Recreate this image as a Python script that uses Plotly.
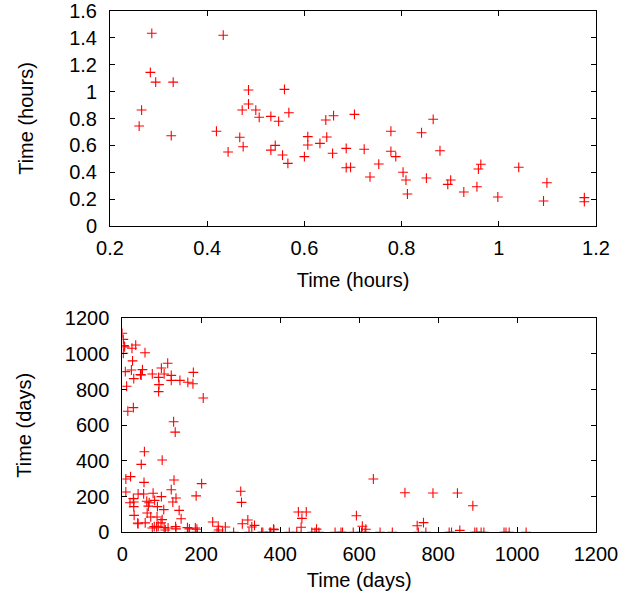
import plotly.graph_objects as go

# top panel: hours vs hours
hours_x = [0.286, 0.433, 0.283, 0.294, 0.330, 0.265, 0.260, 0.326, 0.419, 0.443,
           0.467, 0.474, 0.472, 0.485, 0.485, 0.500, 0.507, 0.531, 0.531, 0.540,
           0.547, 0.555, 0.559, 0.568, 0.566, 0.600, 0.607, 0.607, 0.632, 0.646,
           0.644, 0.660, 0.658, 0.686, 0.686, 0.695, 0.703, 0.723, 0.735, 0.753,
           0.778, 0.778, 0.788, 0.803, 0.809, 0.812, 0.841, 0.851, 0.865, 0.879,
           0.895, 0.901, 0.928, 0.958, 0.963, 0.955, 0.998, 1.041, 1.092, 1.099,
           1.176, 1.176]
hours_y = [1.434, 1.420, 1.143, 1.071, 1.071, 0.863, 0.744, 0.672, 0.705, 0.551,
           0.660, 0.590, 0.863, 1.012, 0.908, 0.863, 0.809, 0.816, 0.565, 0.600,
           0.779, 0.528, 1.017, 0.843, 0.466, 0.516, 0.665, 0.603, 0.615, 0.662,
           0.789, 0.821, 0.541, 0.578, 0.434, 0.437, 0.831, 0.571, 0.365, 0.461,
           0.705, 0.556, 0.516, 0.400, 0.342, 0.238, 0.694, 0.357, 0.794, 0.560,
           0.310, 0.342, 0.253, 0.424, 0.459, 0.292, 0.216, 0.437, 0.186, 0.322,
           0.211, 0.181]

# bottom panel: days vs days
days_x = [0, 2.5, 4.3, 6, 2.5, 24.5, 34, 57.5, 26, 7.6, 23, 29, 51, 46, 48, 76,
          99, 115, 106, 92, 93, 92, 124, 124, 146, 166, 179, 180, 205, 11, 14,
          28, 130, 134, 56, 48, 101, 9, 21, 9, 55, 131, 124, 40, 54, 78, 99,
          136, 187, 201, 19.5, 28, 29, 29, 62, 68, 66, 82, 89, 128, 105, 144,
          30, 63, 72, 88, 149, 39, 40, 58, 101, 98, 76, 81, 87, 91, 106, 116,
          135, 136, 165, 170, 169, 185, 189, 190, 109, 229, 243, 244, 261, 240,
          254, 282, 300, 302, 304, 318, 328, 335, 356, 376, 384, 383,
          636, 716, 787, 849, 888, 446, 466, 455, 453, 593, 608, 617, 747, 763,
          855, 321, 353, 374, 423, 442, 480, 488, 498, 539, 554, 558, 585, 606,
          615, 653, 684, 750, 769, 828, 834, 893, 898, 909, 916, 967, 972, 980,
          1023, 492]
days_y = [1116, 1082, 1047, 1040, 1004, 1032, 1050, 1007, 961, 901, 910, 862,
          912, 884, 882, 888, 921, 948, 888, 869, 828, 789, 880, 852, 852, 841,
          833, 897, 753, 819, 679, 699, 620, 562, 452, 381, 405, 299, 312, 226,
          280, 293, 239, 215, 215, 219, 200, 192, 204, 273, 166, 189, 170, 144,
          174, 166, 147, 179, 144, 170, 127, 123, 95, 108, 86, 86, 76, 52, 48,
          53, 71, 53, 24, 32, 30, 34, 26, 24, 32, 19, 26, 19, 0, 24, 17, 0, 13,
          58, 34, 13, 30, 0, 0, 0, 230, 168, 48, 69, 30, 39, 0, 0, 15, 18,
          299, 222, 220, 220, 149, 114, 114, 78, 28, 93, 34, 17, 37, 54,
          11, 0, 0, 0, 0, 0, 0, 0, 0, 0, 0, 0, 0, 0,
          0, 0, 0, 0, 0, 0, 0, 0, 0, 0, 0, 0, 0, 0,
          0, 18]

W, H = 639, 599
FONT = dict(family="Liberation Sans, Arial, sans-serif", size=20, color="black")
marker = dict(symbol="cross-thin", size=7, color="red",
              line=dict(color="red", width=1.1))


def dom_x(a, b):
    return [a / W, b / W]


def dom_y(top, bottom):
    return [1 - bottom / H, 1 - top / H]


fig = go.Figure()
fig.add_trace(go.Scatter(x=hours_x, y=hours_y, mode="markers", marker=marker,
                         xaxis="x", yaxis="y", showlegend=False))
fig.add_trace(go.Scatter(x=days_x, y=days_y, mode="markers", marker=marker,
                         xaxis="x2", yaxis="y2", showlegend=False))

axis_style = dict(showline=True, mirror="ticks", linecolor="black", linewidth=1,
                  ticks="inside", ticklen=5, tickcolor="black", showgrid=False,
                  zeroline=False, tickfont=FONT, automargin=False,
                  ticklabeloverflow="allow")
xstyle = dict(axis_style, ticklabelstandoff=4)
ystyle = dict(axis_style, ticklabelstandoff=8)

fig.update_layout(
    width=W, height=H,
    margin=dict(l=0, r=0, t=0, b=0),
    plot_bgcolor="white", paper_bgcolor="white",
    font=FONT,
    xaxis=dict(xstyle, domain=dom_x(110, 596), range=[0.2, 1.2],
               dtick=0.2, anchor="y",
               title=dict(text="Time (hours)", font=FONT, standoff=14)),
    yaxis=dict(ystyle, domain=dom_y(11, 226), range=[0, 1.6],
               dtick=0.2, anchor="x",
               title=dict(text="Time (hours)", font=FONT, standoff=30)),
    xaxis2=dict(xstyle, domain=dom_x(122.3, 596), range=[0, 1200],
                dtick=200, anchor="y2",
                title=dict(text="Time (days)", font=FONT, standoff=8)),
    yaxis2=dict(ystyle, domain=dom_y(318.3, 532.3),
                range=[0, 1200], dtick=200, anchor="x2",
                title=dict(text="Time (days)", font=FONT, standoff=27)),
)

# drop the default page margin so the figure sits at the window corner
fig.write_html("out.html", config={"displayModeBar": False},
               post_script="document.body.style.margin='0px';")
